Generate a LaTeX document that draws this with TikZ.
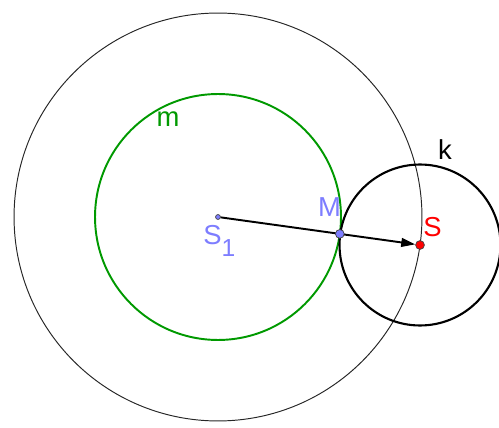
\documentclass[tikz,border=0pt]{standalone}
\usepackage{fontspec}
\setmainfont{Liberation Sans}
\usetikzlibrary{arrows.meta}
\definecolor{ggblue}{RGB}{125,125,255}
\definecolor{ggred}{RGB}{255,0,0}
\definecolor{gggreen}{RGB}{0,153,0}
\tikzset{
  lbl/.style={inner sep=0pt, font=\fontsize{15.6}{18}\selectfont},
  pt/.style={circle, draw=black!75, line width=0.4pt, inner sep=0pt, minimum size=#1},
}
\begin{document}
\begin{tikzpicture}[x=0.02cm,y=-0.02cm]
\useasboundingbox (0,0) rectangle (499,428);
\coordinate (S1) at (218,217);
\coordinate (S) at (420,245);
\coordinate (M) at (339.8,233.9);
% circles
\draw[line width=0.55pt, black!85] (S1) circle[radius=4.08cm];
\draw[line width=1.1pt, gggreen] (S1) circle[radius=2.46cm];
\draw[line width=1.2pt, black] (S) circle[radius=1.61cm];
% points
\node[pt=2.8pt, fill=ggblue] (pS1) at (S1) {};
\node[pt=5pt, fill=ggred] (pS) at (S) {};
% vector
\draw[line width=1.1pt, -{Triangle[length=8pt,width=5pt]}] (pS1) -- (pS);
\node[pt=5pt, fill=ggblue] (pM) at (M) {};
% labels
\node[lbl, text=gggreen] (lm) at (168,119) {m};
\node[lbl, text=black] (lk) at (445,150) {k};
\node[lbl, text=ggblue] (lM) at (329.5,207) {M};
\node[lbl, text=ggred] (lS) at (432.5,227.5) {S};
\node[lbl, text=ggblue, anchor=base west] (lS1) at (203,245) {S\raisebox{-6.8pt}{\fontsize{14}{16}\selectfont 1}};
\end{tikzpicture}
\end{document}
